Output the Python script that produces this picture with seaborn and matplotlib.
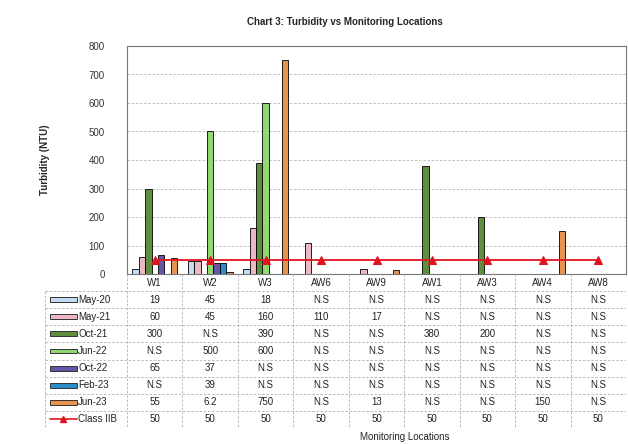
import matplotlib
matplotlib.use("Agg")
import matplotlib.pyplot as plt
import matplotlib.patches as mpatches
from matplotlib.lines import Line2D
import numpy as np
import pandas as pd
import seaborn as sns

# ---- data ----
locations = ["W1", "W2", "W3", "AW6", "AW9", "AW1", "AW3", "AW4", "AW8"]
series = ["May-20", "May-21", "Oct-21", "Jun-22", "Oct-22", "Feb-23", "Jun-23"]
may_20 = [19, 45, 18, None, None, None, None, None, None]
may_21 = [60, 45, 160, 110, 17, None, None, None, None]
oct_21 = [300, None, 390, None, None, 380, 200, None, None]
jun_22 = [None, 500, 600, None, None, None, None, None, None]
oct_22 = [65, 37, None, None, None, None, None, None, None]
feb_23 = [None, 39, None, None, None, None, None, None, None]
jun_23 = [55, 6.2, 750, None, 13, None, None, 150, None]
class_iib = [50, 50, 50, 50, 50, 50, 50, 50, 50]

colors = ["#c4dcf2", "#ecb8c4", "#5f8f3e", "#90d870", "#6656a8", "#2a8cc8", "#e8944c"]
line_color = "#e01420"

values = [may_20, may_21, oct_21, jun_22, oct_22, feb_23, jun_23]

rows = []
for name, vals in zip(series, values):
    for loc, v in zip(locations, vals):
        rows.append({"Location": loc, "Series": name,
                     "Turbidity": np.nan if v is None else v})
df = pd.DataFrame(rows)

sns.set_style("white")
plt.rcParams["font.family"] = ["Liberation Sans", "DejaVu Sans"]

fig = plt.figure(figsize=(6.28, 4.44), dpi=100)
W, H = 628, 444

# main chart
ax = fig.add_axes([127 / W, 1 - 274 / H, 499 / W, 228 / H])
sns.barplot(data=df, x="Location", y="Turbidity", hue="Series",
            order=locations, hue_order=series, palette=colors,
            errorbar=None, width=0.81, edgecolor="black", linewidth=0.6,
            saturation=1, legend=False, ax=ax)
sns.lineplot(x=np.arange(len(locations)), y=class_iib, color=line_color,
             marker="^", markersize=6, markeredgecolor=line_color,
             linewidth=1.3, ax=ax)

ax.set_ylim(0, 800)
ax.set_xlim(-0.5, len(locations) - 0.5)
ax.set_yticks(range(0, 801, 100))
ax.tick_params(axis="y", labelsize=7, colors="#333333", length=0, pad=16)
ax.set_xticks([])
ax.set_xlabel("")
ax.set_ylabel("Turbidity (NTU)", fontsize=7, fontweight="bold", labelpad=28)
ax.yaxis.grid(True, linestyle=(0, (3, 2)), color="#b8b8b8", linewidth=0.6)
ax.set_axisbelow(True)
for s in ax.spines.values():
    s.set_color("#777777")
    s.set_linewidth(0.8)

fig.text(345 / W, 1 - 22 / H, "Chart 3: Turbidity vs Monitoring Locations",
         ha="center", va="center", fontsize=7, fontweight="bold")

# data table below the chart
label_w = 82 / (499 / len(locations))
tab = fig.add_axes([45 / W, 1 - 428 / H, 581 / W, 154 / H])
tab.set_xlim(-0.5 - label_w, len(locations) - 0.5)
tab.set_ylim(len(series) + 2, 0)
tab.axis("off")

grid_kw = dict(color="#b0b0b0", linewidth=0.6, linestyle=(0, (3, 2)))
n_rows = len(series) + 2
for r in range(1, n_rows + 1):
    tab.plot([-0.5 - label_w, len(locations) - 0.5], [r, r], **grid_kw)
for c in range(len(locations) + 1):
    tab.plot([c - 0.5, c - 0.5], [0, n_rows], **grid_kw)
tab.plot([-0.5 - label_w, -0.5 - label_w], [1, n_rows], **grid_kw)

for i, loc in enumerate(locations):
    tab.text(i, 0.5, loc, ha="center", va="center", fontsize=7, color="#222222")


def fmt(v):
    if v is None:
        return "N.S"
    return f"{v:g}"


sw_x0 = -0.5 - label_w + 0.09
sw_w = 0.48
for r, (name, vals, col) in enumerate(zip(series, values, colors), start=1):
    tab.add_patch(mpatches.Rectangle((sw_x0, r + 0.36), sw_w, 0.28,
                                     facecolor=col, edgecolor="#333333",
                                     linewidth=0.7))
    tab.text(sw_x0 + sw_w + 0.03, r + 0.5, name, ha="left", va="center",
             fontsize=7, color="#222222")
    for i, v in enumerate(vals):
        tab.text(i, r + 0.5, fmt(v), ha="center", va="center", fontsize=7,
                 color="#222222")

r = len(series) + 1
tab.add_line(Line2D([sw_x0, sw_x0 + sw_w], [r + 0.5, r + 0.5],
                    color=line_color, linewidth=1.2))
tab.plot([sw_x0 + sw_w / 2], [r + 0.5], marker="^", color=line_color,
         markersize=5)
tab.text(sw_x0 + sw_w + 0.03, r + 0.5, "Class IIB", ha="left", va="center",
         fontsize=7, color="#222222")
for i, v in enumerate(class_iib):
    tab.text(i, r + 0.5, fmt(v), ha="center", va="center", fontsize=7,
             color="#222222")

fig.text(405 / W, 1 - 437 / H, "Monitoring Locations", ha="center",
         va="center", fontsize=7, color="#222222")

fig.savefig("out.png", dpi=100)
